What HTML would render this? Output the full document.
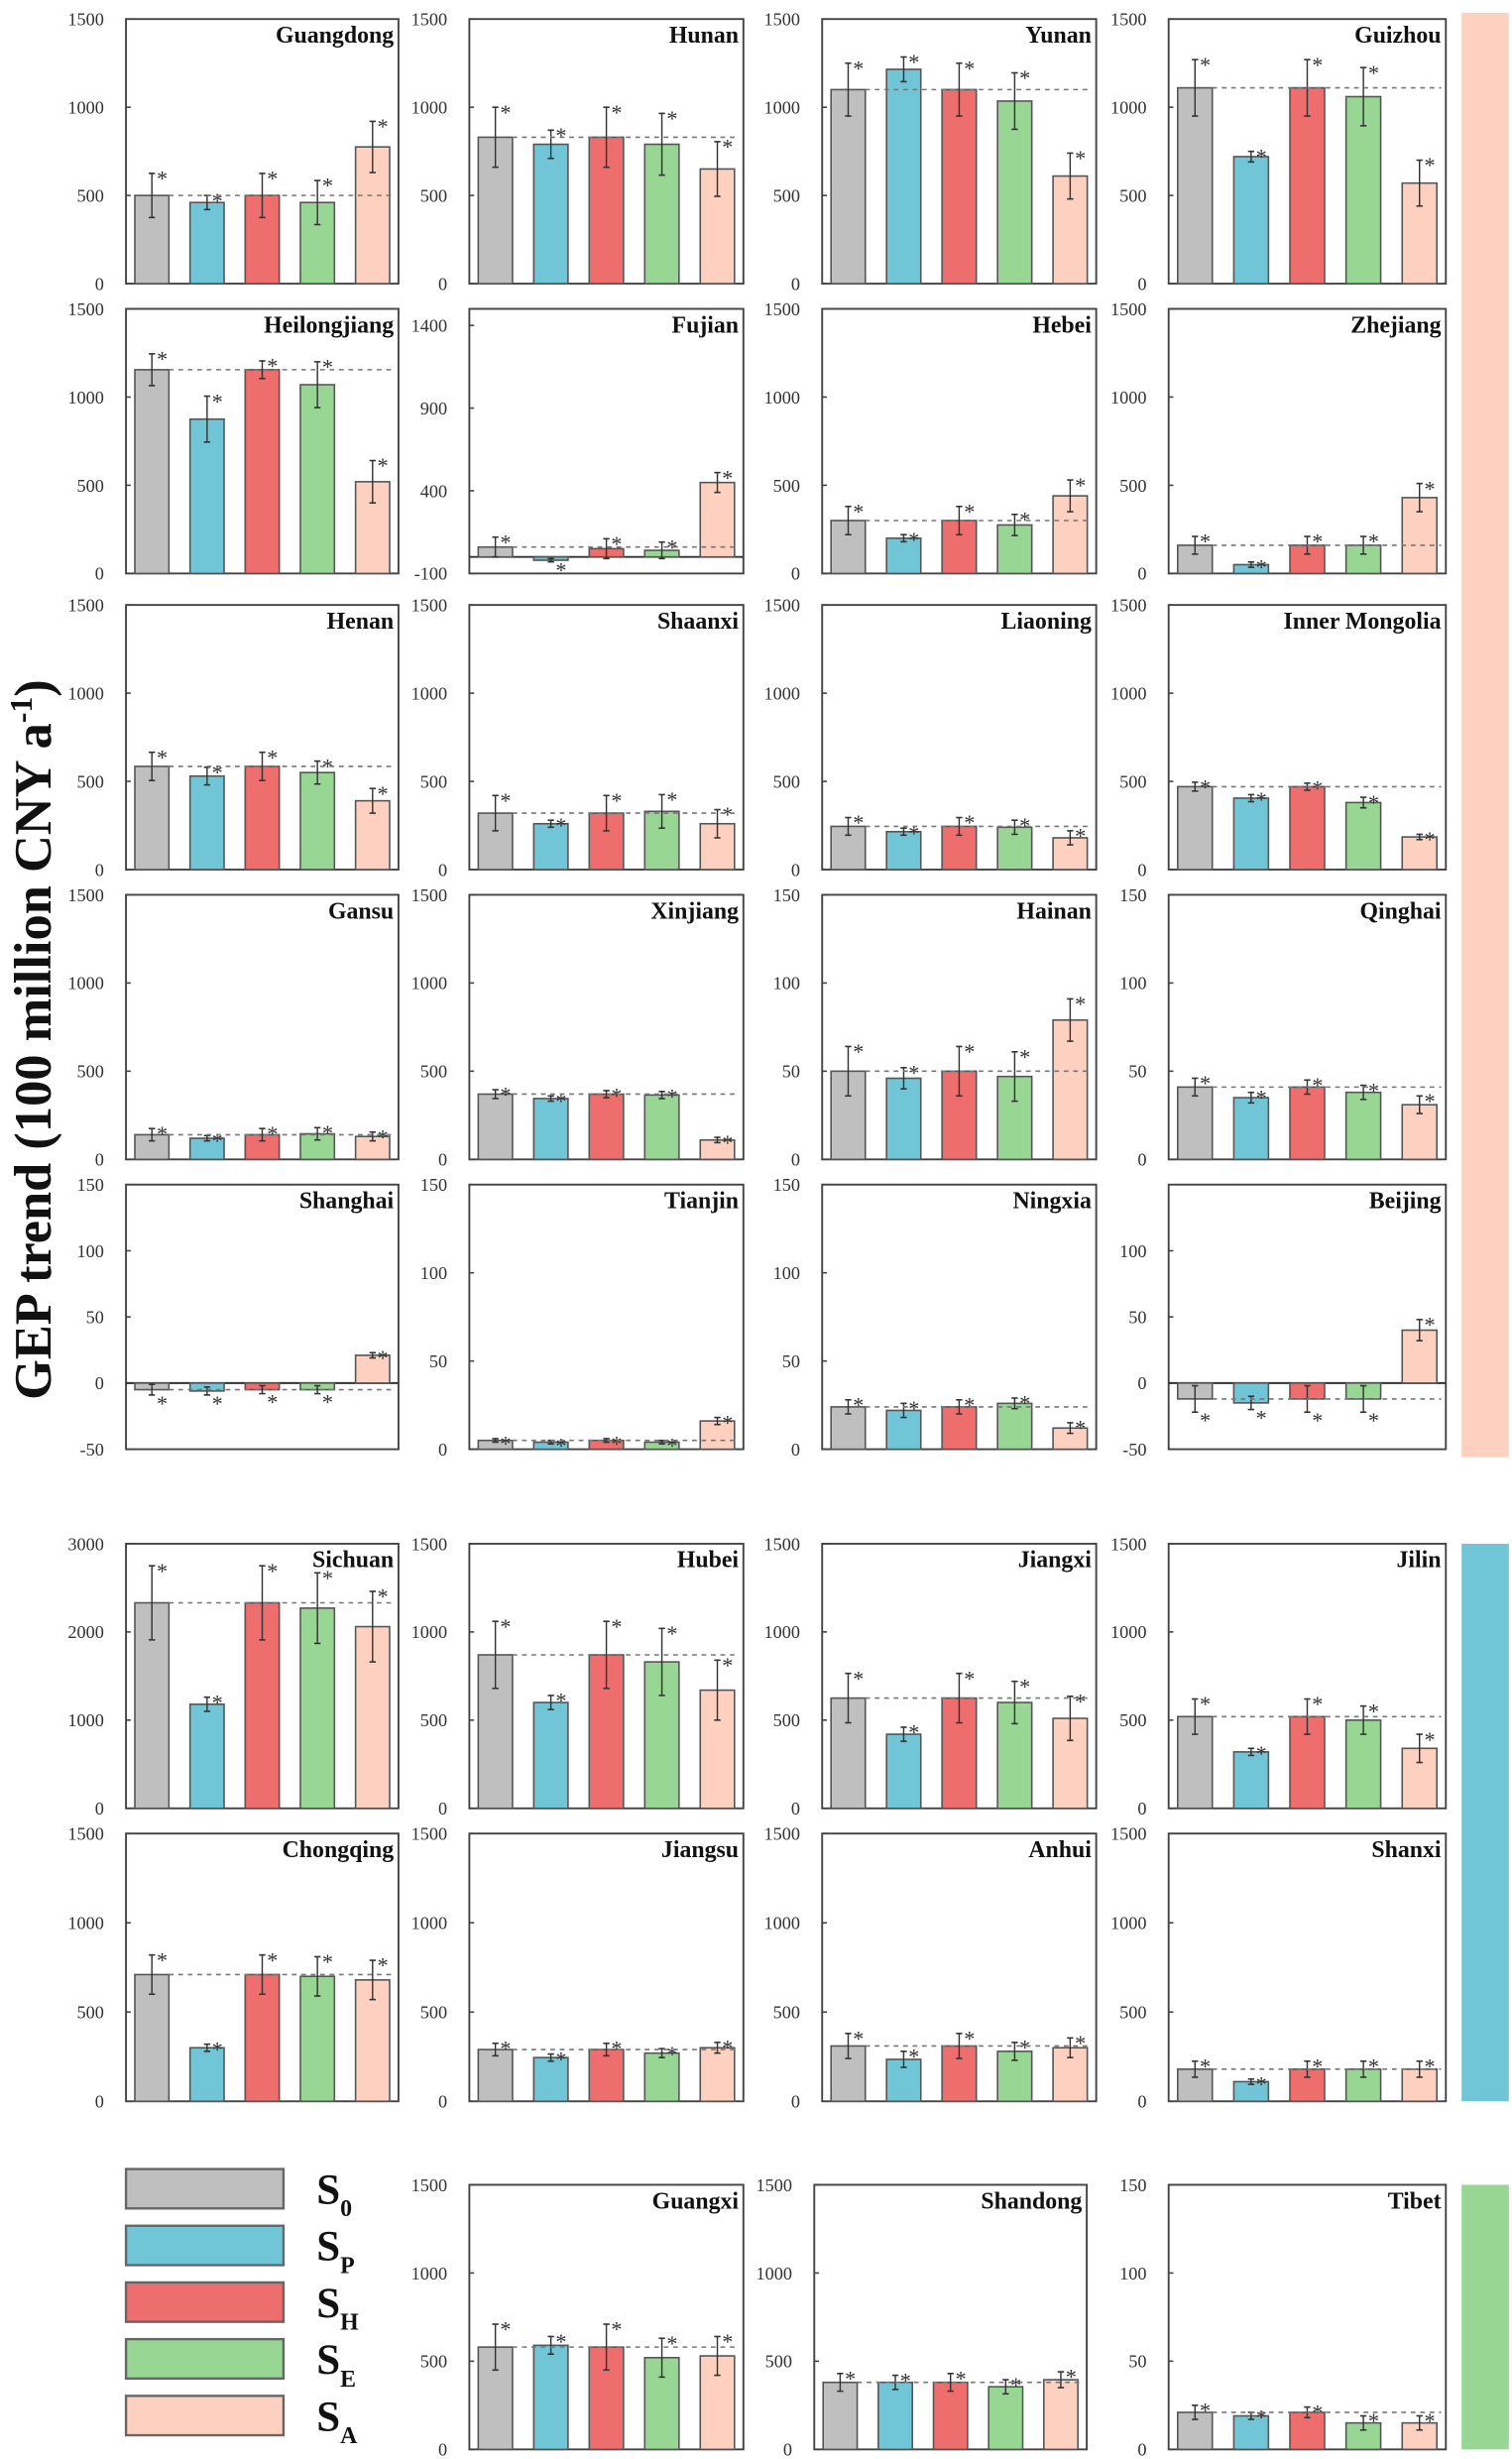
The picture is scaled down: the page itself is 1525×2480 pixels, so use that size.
<!DOCTYPE html>
<html><head><meta charset="utf-8"><style>
html,body{margin:0;padding:0;background:#fff;}
svg{display:block;}
</style></head><body>
<svg id="s" width="1525" height="2480" viewBox="0 0 960 1561" xmlns="http://www.w3.org/2000/svg" font-family="Liberation Serif, serif"></svg>
<script>
const C=["#bfbfbf","#70c6d6","#ee6e6e","#98d694","#fdd0bf"];
const cols=[[80,253],[298,472],[522,696],[742,918]];
const rows=[[12,180],[196,364],[384,552],[568,736],[752,920],[980,1148],[1164,1334],[1387,1555]];
const P=[
["Guangdong",0,0,0,1500,[0,500,1000,1500],[500,460,500,460,775],[125,40,125,125,145]],
["Hunan",0,1,0,1500,[0,500,1000,1500],[830,790,830,790,650],[170,80,170,175,155]],
["Yunan",0,2,0,1500,[0,500,1000,1500],[1100,1215,1100,1035,610],[150,70,150,160,130]],
["Guizhou",0,3,0,1500,[0,500,1000,1500],[1110,720,1110,1060,570],[160,30,160,165,130]],
["Heilongjiang",1,0,0,1500,[0,500,1000,1500],[1155,875,1155,1070,520],[90,130,50,130,120]],
["Fujian",1,1,-100,1500,[-100,400,900,1400],[60,-20,50,40,450],[60,10,60,50,60]],
["Hebei",1,2,0,1500,[0,500,1000,1500],[300,200,300,275,440],[80,20,80,60,90]],
["Zhejiang",1,3,0,1500,[0,500,1000,1500],[160,50,160,160,430],[50,15,50,50,80]],
["Henan",2,0,0,1500,[0,500,1000,1500],[585,530,585,550,390],[80,50,80,65,70]],
["Shaanxi",2,1,0,1500,[0,500,1000,1500],[320,260,320,330,260],[100,20,100,95,80]],
["Liaoning",2,2,0,1500,[0,500,1000,1500],[245,215,245,240,180],[50,20,50,40,40]],
["Inner Mongolia",2,3,0,1500,[0,500,1000,1500],[470,405,470,380,185],[25,20,20,30,15]],
["Gansu",3,0,0,1500,[0,500,1000,1500],[140,120,140,145,130],[35,15,35,35,25]],
["Xinjiang",3,1,0,1500,[0,500,1000,1500],[370,345,370,365,110],[25,15,20,20,15]],
["Hainan",3,2,0,150,[0,50,100,150],[50,46,50,47,79],[14,6,14,14,12]],
["Qinghai",3,3,0,150,[0,50,100,150],[41,35,41,38,31],[5,3,4,4,5]],
["Shanghai",4,0,-50,150,[-50,0,50,100,150],[-5,-6,-5,-5,21],[4,3,3,3,2]],
["Tianjin",4,1,0,150,[0,50,100,150],[5,4,5,4,16],[1,1,1,1,2]],
["Ningxia",4,2,0,150,[0,50,100,150],[24,22,24,26,12],[4,4,4,3,3]],
["Beijing",4,3,-50,150,[-50,0,50,100],[-12,-15,-12,-12,40],[10,5,10,10,8]],
["Sichuan",5,0,0,3000,[0,1000,2000,3000],[2330,1180,2330,2270,2060],[420,80,420,400,400]],
["Hubei",5,1,0,1500,[0,500,1000,1500],[870,600,870,830,670],[190,40,190,190,170]],
["Jiangxi",5,2,0,1500,[0,500,1000,1500],[625,420,625,600,510],[140,40,140,120,125]],
["Jilin",5,3,0,1500,[0,500,1000,1500],[520,320,520,500,340],[100,20,100,80,80]],
["Chongqing",6,0,0,1500,[0,500,1000,1500],[710,300,710,700,680],[110,20,110,110,110]],
["Jiangsu",6,1,0,1500,[0,500,1000,1500],[290,245,290,270,300],[35,20,35,25,30]],
["Anhui",6,2,0,1500,[0,500,1000,1500],[310,235,310,280,300],[70,45,70,50,55]],
["Shanxi",6,3,0,1500,[0,500,1000,1500],[180,110,180,180,180],[45,15,45,45,45]],
["Guangxi",7,1,0,1500,[0,500,1000,1500],[580,590,580,520,530],[130,50,130,110,110]],
["Shandong",7,2,0,1500,[0,500,1000,1500],[380,380,380,355,395],[50,40,50,40,45]],
["Tibet",7,3,0,150,[0,50,100,150],[21,19,21,15,15],[4,2,3,4,4]],
];
let o="";
for(const p of P){
 let [name,r,c,mn,mx,ticks,v,e]=p;
 let [x0,x1]=cols[c]; if(r==7&&c==2){x0=517;x1=690;}
 const [y0,y1]=rows[r];
 const Y=val=>y1-(val-mn)/(mx-mn)*(y1-y0);
 o+=`<rect x="${x0}" y="${y0}" width="${x1-x0}" height="${y1-y0}" fill="none" stroke="#444" stroke-width="1.2"/>`;
 for(const t of ticks){o+=`<text x="${x0-14}" y="${Y(t)+4}" font-size="11.5" text-anchor="end" fill="#333">${t}</text><line x1="${x0}" x2="${x0+3}" y1="${Y(t)}" y2="${Y(t)}" stroke="#444"/>`;}
 const z=Y(0);
 if(mn<0)o+=`<line x1="${x0}" x2="${x1}" y1="${z}" y2="${z}" stroke="#333" stroke-width="1.2"/>`;
 const w=x1-x0, bw=w*0.125;
 for(let i=0;i<5;i++){
  const cx=x0+w*(0.095+i*0.2025);
  const yv=Y(v[i]);
  o+=`<rect x="${cx-bw/2}" y="${Math.min(yv,z)}" width="${bw}" height="${Math.abs(z-yv)}" fill="${C[i]}" stroke="#555" stroke-width="1"/>`;
  const t=Y(v[i]+e[i]), b=Y(v[i]-e[i]);
  o+=`<line x1="${cx}" x2="${cx}" y1="${t}" y2="${b}" stroke="#333" stroke-width="0.9"/><line x1="${cx-2}" x2="${cx+2}" y1="${t}" y2="${t}" stroke="#333"/><line x1="${cx-2}" x2="${cx+2}" y1="${b}" y2="${b}" stroke="#333"/>`;
  const sy=v[i]<0?b+10:t+8;
  o+=`<text x="${cx+3}" y="${sy}" font-size="14" fill="#333">*</text>`;
 }
 const ry=Y(v[0]);
 o+=`<line x1="${x0+w*0.095+bw/2}" x2="${x1-3}" y1="${ry}" y2="${ry}" stroke="#777" stroke-dasharray="3,3"/>`;
 o+=`<text x="${x1-3}" y="${y0+15}" font-size="15" font-weight="bold" text-anchor="end" fill="#111">${name}</text>`;
}
o+=`<rect x="928" y="8" width="30" height="917" fill="#fdd0bf"/><rect x="928" y="980" width="30" height="354" fill="#70c6d6"/><rect x="928" y="1387" width="30" height="168" fill="#98d694"/>`;
const L=[["0"],["P"],["H"],["E"],["A"]];
for(let i=0;i<5;i++){const y=1377+i*36;
 o+=`<rect x="80" y="${y}" width="100" height="25" fill="${C[i]}" stroke="#666" stroke-width="1.5"/>`;
 o+=`<text x="201" y="${y+22}" font-size="27" font-weight="bold" fill="#111">S<tspan font-size="15" dy="8">${L[i]}</tspan></text>`;}
o+=`<text transform="translate(32,660) rotate(-90)" font-size="33" font-weight="bold" text-anchor="middle" fill="#111">GEP trend (100 million CNY a<tspan font-size="20" dy="-12">-1</tspan><tspan dy="12">)</tspan></text>`;
document.getElementById("s").innerHTML=o;
</script>
</body></html>
